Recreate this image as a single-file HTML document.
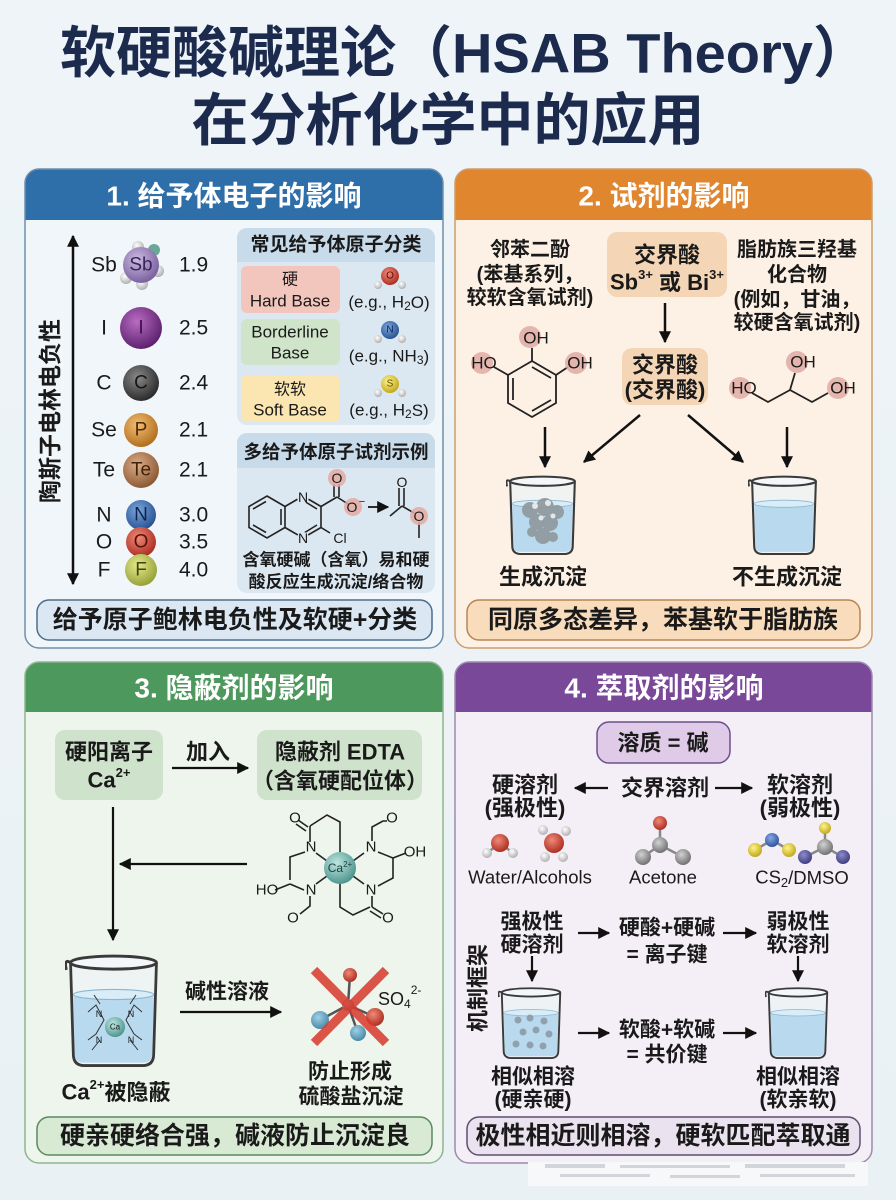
<!DOCTYPE html>
<html><head><meta charset="utf-8">
<style>
html,body{margin:0;padding:0;background:#edf3f7;}
svg{display:block;}
text{font-family:"Liberation Sans","Noto Sans CJK SC",sans-serif;fill:#1a1a1a;}
.b{font-weight:700;}
.w{fill:#ffffff;font-weight:700;}
</style></head><body>
<svg width="896" height="1200" viewBox="0 0 896 1200" xmlns="http://www.w3.org/2000/svg">
<defs>
<linearGradient id="bg" x1="0" y1="0" x2="0" y2="1"><stop offset="0" stop-color="#eef4f8"/><stop offset="1" stop-color="#eaf1f5"/></linearGradient>
<marker id="ah" viewBox="0 0 10 10" refX="9" refY="5" markerWidth="12" markerHeight="12" markerUnits="userSpaceOnUse" orient="auto-start-reverse"><path d="M0,0 L10,5 L0,10 Z" fill="#111"/></marker>
<radialGradient id="gSb" cx="40%" cy="35%" r="65%"><stop offset="0" stop-color="#cdbbe2"/><stop offset="1" stop-color="#7b62a0"/></radialGradient>
<radialGradient id="gI" cx="40%" cy="35%" r="65%"><stop offset="0" stop-color="#b96cc2"/><stop offset="1" stop-color="#5e2270"/></radialGradient>
<radialGradient id="gC" cx="40%" cy="35%" r="65%"><stop offset="0" stop-color="#8a8a8a"/><stop offset="1" stop-color="#2c2c2c"/></radialGradient>
<radialGradient id="gP" cx="40%" cy="35%" r="65%"><stop offset="0" stop-color="#f4be72"/><stop offset="1" stop-color="#b27020"/></radialGradient>
<radialGradient id="gTe" cx="40%" cy="35%" r="65%"><stop offset="0" stop-color="#dcae88"/><stop offset="1" stop-color="#8e5a36"/></radialGradient>
<radialGradient id="gN" cx="40%" cy="35%" r="65%"><stop offset="0" stop-color="#7ba8dc"/><stop offset="1" stop-color="#2a5394"/></radialGradient>
<radialGradient id="gO" cx="40%" cy="35%" r="65%"><stop offset="0" stop-color="#f08a78"/><stop offset="1" stop-color="#ad3024"/></radialGradient>
<radialGradient id="gF" cx="40%" cy="35%" r="65%"><stop offset="0" stop-color="#e6ea8a"/><stop offset="1" stop-color="#98a23a"/></radialGradient>
<radialGradient id="gCa" cx="40%" cy="35%" r="65%"><stop offset="0" stop-color="#bfe6e0"/><stop offset="1" stop-color="#4e9690"/></radialGradient>
<radialGradient id="gW" cx="40%" cy="35%" r="65%"><stop offset="0" stop-color="#ffffff"/><stop offset="1" stop-color="#b0b0b0"/></radialGradient>
<radialGradient id="gY" cx="40%" cy="35%" r="65%"><stop offset="0" stop-color="#fff48a"/><stop offset="1" stop-color="#c2a81c"/></radialGradient>
<radialGradient id="gG" cx="40%" cy="35%" r="65%"><stop offset="0" stop-color="#d2d2d2"/><stop offset="1" stop-color="#727272"/></radialGradient>
<radialGradient id="gB" cx="40%" cy="35%" r="65%"><stop offset="0" stop-color="#86a8e6"/><stop offset="1" stop-color="#33539e"/></radialGradient>
<radialGradient id="gV" cx="40%" cy="35%" r="65%"><stop offset="0" stop-color="#8c8cc8"/><stop offset="1" stop-color="#3f3f82"/></radialGradient>
<radialGradient id="gT" cx="40%" cy="35%" r="65%"><stop offset="0" stop-color="#9fd0e6"/><stop offset="1" stop-color="#4a8aa8"/></radialGradient>
<symbol id="bk" viewBox="0 0 70 80" preserveAspectRatio="none">
 <path d="M4,8 L6,71 Q6,79 14,79 L56,79 Q64,79 64,71 L66,8 Z" fill="#eef2f5" opacity="0.8"/>
 <path d="M6,30 L7,71 Q7,77 14,77 L56,77 Q63,77 63,71 L64,30 Z" fill="#b9daee"/>
 <ellipse cx="35" cy="30" rx="29" ry="3.5" fill="#d8edf8" stroke="#8cb6cf" stroke-width="0.8"/>
 <path d="M4,8 L6,71 Q6,79 14,79 L56,79 Q64,79 64,71 L66,8" fill="none" stroke="#3a3a3a" stroke-width="2"/>
 <ellipse cx="35" cy="8" rx="31" ry="4.5" fill="#f4f7f9" stroke="#3a3a3a" stroke-width="2"/>
 <path d="M4,8 Q-1,5 1,13" fill="none" stroke="#3a3a3a" stroke-width="2"/>
</symbol>
</defs>

<rect width="896" height="1200" fill="url(#bg)"/>

<!-- Title -->
<text x="60" y="53" font-size="56" class="b" dominant-baseline="central" style="fill:#1c2b4d">软硬酸碱理论（HSAB Theory）</text>
<text x="448" y="121" font-size="57" class="b" text-anchor="middle" dominant-baseline="central" style="fill:#1c2b4d">在分析化学中的应用</text>

<!-- ================= PANEL 1 ================= -->
<rect x="25" y="169" width="418" height="479" rx="14" fill="#f1f6fa"/>
<path d="M25,220 V183 A14,14 0 0 1 39,169 H429 A14,14 0 0 1 443,183 V220 Z" fill="#2f6fa9"/>
<rect x="25" y="169" width="418" height="479" rx="14" fill="none" stroke="#6f8fab" stroke-width="1.5"/>
<text x="234" y="196" font-size="28" class="w" text-anchor="middle" dominant-baseline="central">1. 给予体电子的影响</text>

<line x1="73" y1="236" x2="73" y2="584" stroke="#111" stroke-width="2.5" marker-start="url(#ah)" marker-end="url(#ah)"/>
<text transform="translate(50,411) rotate(-90)" font-size="23" class="b" text-anchor="middle" dominant-baseline="central">陶斯子电林电负性</text>

<g font-size="21" text-anchor="middle" dominant-baseline="central">
<text x="104" y="265">Sb</text><text x="104" y="328">I</text><text x="104" y="383">C</text><text x="104" y="430">Se</text>
<text x="104" y="470">Te</text><text x="104" y="515">N</text><text x="104" y="542">O</text><text x="104" y="570">F</text>
</g>
<g font-size="21" dominant-baseline="central">
<text x="179" y="265">1.9</text><text x="179" y="328">2.5</text><text x="179" y="383">2.4</text><text x="179" y="430">2.1</text>
<text x="179" y="470">2.1</text><text x="179" y="515">3.0</text><text x="179" y="542">3.5</text><text x="179" y="570">4.0</text>
</g>
<!-- balls -->
<circle cx="138" cy="247" r="6" fill="url(#gW)"/><circle cx="154" cy="250" r="6" fill="#6aa897"/>
<circle cx="126" cy="278" r="6" fill="url(#gW)"/><circle cx="142" cy="284" r="6" fill="url(#gW)"/><circle cx="158" cy="271" r="6" fill="url(#gW)"/>
<circle cx="141" cy="265" r="18" fill="url(#gSb)"/>
<circle cx="141" cy="328" r="21" fill="url(#gI)"/>
<circle cx="141" cy="383" r="18" fill="url(#gC)"/>
<circle cx="141" cy="430" r="17" fill="url(#gP)"/>
<circle cx="141" cy="470" r="18" fill="url(#gTe)"/>
<circle cx="141" cy="515" r="15" fill="url(#gN)"/>
<circle cx="141" cy="542" r="15" fill="url(#gO)"/>
<circle cx="141" cy="570" r="16" fill="url(#gF)"/>
<g font-size="19" text-anchor="middle" dominant-baseline="central">
<text x="141" y="265" style="fill:#3a2458">Sb</text>
<text x="141" y="328" style="fill:#3a0f48">I</text>
<text x="141" y="383" style="fill:#151515">C</text>
<text x="141" y="430" style="fill:#4a2a08">P</text>
<text x="141" y="470" style="fill:#3e220c">Te</text>
<text x="141" y="515" style="fill:#0e2350">N</text>
<text x="141" y="542" style="fill:#5a0e08">O</text>
<text x="141" y="570" style="fill:#3f4410">F</text>
</g>

<!-- classification box -->
<rect x="237" y="228" width="198" height="197" rx="10" fill="#dce8f1"/>
<path d="M237,262 V238 A10,10 0 0 1 247,228 H425 A10,10 0 0 1 435,238 V262 Z" fill="#c8dbeb"/>
<text x="336" y="245" font-size="19" class="b" text-anchor="middle" dominant-baseline="central">常见给予体原子分类</text>
<rect x="241" y="266" width="99" height="47" rx="6" fill="#f2c6bc"/>
<rect x="241" y="319" width="99" height="46" rx="6" fill="#cfe4c9"/>
<rect x="241" y="375" width="99" height="47" rx="6" fill="#fbe5b0"/>
<g font-size="17" text-anchor="middle" dominant-baseline="central">
<text x="290" y="280" font-size="16">硬</text><text x="290" y="301">Hard Base</text>
<text x="290" y="332">Borderline</text><text x="290" y="353">Base</text>
<text x="290" y="390" font-size="16">软软</text><text x="290" y="410">Soft Base</text>
<text x="389" y="302">(e.g., H<tspan dy="4" font-size="12">2</tspan><tspan dy="-4">O)</tspan></text>
<text x="389" y="356">(e.g., NH<tspan dy="4" font-size="12">3</tspan><tspan dy="-4">)</tspan></text>
<text x="389" y="410">(e.g., H<tspan dy="4" font-size="12">2</tspan><tspan dy="-4">S)</tspan></text>
</g>
<circle cx="378" cy="285" r="4" fill="url(#gW)"/><circle cx="402" cy="285" r="4" fill="url(#gW)"/><circle cx="390" cy="276" r="9" fill="url(#gO)"/>
<text x="390" y="276" font-size="10" text-anchor="middle" dominant-baseline="central" style="fill:#5a0e08">O</text>
<circle cx="378" cy="339" r="4" fill="url(#gW)"/><circle cx="402" cy="339" r="4" fill="url(#gW)"/><circle cx="390" cy="330" r="9" fill="url(#gN)"/>
<text x="390" y="330" font-size="10" text-anchor="middle" dominant-baseline="central" style="fill:#0e2350">N</text>
<circle cx="378" cy="393" r="4" fill="url(#gW)"/><circle cx="402" cy="393" r="4" fill="url(#gW)"/><circle cx="390" cy="384" r="9" fill="url(#gY)"/>
<text x="390" y="384" font-size="10" text-anchor="middle" dominant-baseline="central" style="fill:#5a4a00">S</text>

<!-- multidentate box -->
<rect x="237" y="433" width="198" height="160" rx="10" fill="#dce8f1"/>
<path d="M237,468 V443 A10,10 0 0 1 247,433 H425 A10,10 0 0 1 435,443 V468 Z" fill="#c8dbeb"/>
<text x="336" y="452" font-size="18.5" class="b" text-anchor="middle" dominant-baseline="central">多给予体原子试剂示例</text>
<g stroke="#222" stroke-width="1.6" fill="none">
<polygon points="267,496 285,506.5 285,527.5 267,538 249,527.5 249,506.5"/>
<line x1="253" y1="509" x2="266" y2="501.5"/><line x1="253" y1="525" x2="266" y2="532.5"/><line x1="281" y1="509" x2="281" y2="525"/>
<polyline points="303,496 321,506.5 321,527.5 303,538 285,527.5"/><line x1="285" y1="506.5" x2="303" y2="496"/>
<line x1="304" y1="501" x2="317" y2="509"/><line x1="317" y1="525" x2="304" y2="533"/>
<line x1="321" y1="506.5" x2="337" y2="497"/>
<line x1="334" y1="497" x2="334" y2="484"/><line x1="339" y1="497" x2="339" y2="484"/>
<line x1="337" y1="497" x2="348" y2="504"/>
<line x1="321" y1="527.5" x2="330" y2="533"/>
<line x1="390" y1="516" x2="402" y2="506"/><line x1="399" y1="506" x2="399" y2="488"/><line x1="404" y1="506" x2="404" y2="488"/>
<line x1="402" y1="506" x2="414" y2="513"/><line x1="419" y1="522" x2="419" y2="538"/>
</g>
<line x1="368" y1="507" x2="388" y2="507" stroke="#111" stroke-width="1.8" marker-end="url(#ah)"/>
<circle cx="337" cy="478" r="9" fill="#e4a9a2" opacity="0.85"/><circle cx="353" cy="507" r="9" fill="#e4a9a2" opacity="0.85"/>
<circle cx="419" cy="516" r="9" fill="#e4a9a2" opacity="0.85"/>
<circle cx="303" cy="497" r="6" fill="#dce8f1"/><circle cx="303" cy="538" r="6" fill="#dce8f1"/>
<g font-size="14" text-anchor="middle" dominant-baseline="central">
<text x="303" y="497">N</text><text x="303" y="538">N</text><text x="340" y="538">Cl</text>
<text x="337" y="478">O</text><text x="352" y="507">O</text><text x="362" y="502" font-size="11">−</text>
<text x="402" y="482">O</text><text x="419" y="516">O</text>
</g>
<text x="336" y="560" font-size="17" class="b" text-anchor="middle" dominant-baseline="central">含氧硬碱（含氧）易和硬</text>
<text x="336" y="582" font-size="17" class="b" text-anchor="middle" dominant-baseline="central">酸反应生成沉淀/络合物</text>

<rect x="37" y="600" width="395" height="40" rx="12" fill="#dbe8f3" stroke="#4f6d8a" stroke-width="1.5"/>
<text x="235" y="620" font-size="25" class="b" text-anchor="middle" dominant-baseline="central">给予原子鲍林电负性及软硬+分类</text>

<!-- ================= PANEL 2 ================= -->
<rect x="455" y="169" width="417" height="479" rx="14" fill="#fdf1e5"/>
<path d="M455,220 V183 A14,14 0 0 1 469,169 H858 A14,14 0 0 1 872,183 V220 Z" fill="#e0862f"/>
<rect x="455" y="169" width="417" height="479" rx="14" fill="none" stroke="#cf9c6c" stroke-width="1.5"/>
<text x="664" y="196" font-size="28" class="w" text-anchor="middle" dominant-baseline="central">2. 试剂的影响</text>

<g font-size="20" class="b" text-anchor="middle" dominant-baseline="central">
<text x="530" y="250">邻苯二酚</text><text x="530" y="275">(苯基系列，</text><text x="530" y="298">较软含氧试剂)</text>
<text x="797" y="250">脂肪族三羟基</text><text x="797" y="275">化合物</text><text x="797" y="300">(例如，甘油，</text><text x="797" y="323">较硬含氧试剂)</text>
</g>
<rect x="607" y="232" width="120" height="65" rx="10" fill="#f4d6b6"/>
<rect x="622" y="348" width="86" height="57" rx="10" fill="#f4d6b6"/>
<g font-size="22" class="b" text-anchor="middle" dominant-baseline="central">
<text x="667" y="255">交界酸</text>
<text x="667" y="282">Sb<tspan dy="-8" font-size="13">3+</tspan><tspan dy="8"> 或 Bi</tspan><tspan dy="-8" font-size="13">3+</tspan></text>
<text x="665" y="365">交界酸</text><text x="665" y="390">(交界酸)</text>
</g>
<line x1="665" y1="303" x2="665" y2="342" stroke="#111" stroke-width="2.5" marker-end="url(#ah)"/>

<!-- pyrogallol -->
<g stroke="#222" stroke-width="1.8" fill="none">
<polygon points="532,361 556,375 556,403 532,417 508,403 508,375"/>
<line x1="532" y1="367" x2="551" y2="378"/><line x1="551" y1="400" x2="532" y2="411"/><line x1="513" y1="378" x2="513" y2="400"/>
<line x1="532" y1="361" x2="532" y2="348"/><line x1="508" y1="375" x2="494" y2="367"/><line x1="556" y1="375" x2="568" y2="367"/>
<polyline points="752,393 768,402 790,390 812,402 828,393"/><line x1="790" y1="390" x2="795" y2="373"/>
</g>
<g fill="#e0aba5" opacity="0.85">
<circle cx="530" cy="337" r="11"/><circle cx="482" cy="363" r="11"/><circle cx="576" cy="363" r="11"/>
<circle cx="797" cy="362" r="11"/><circle cx="740" cy="388" r="11"/><circle cx="838" cy="388" r="11"/>
</g>
<g font-size="17" text-anchor="middle" dominant-baseline="central">
<text x="536" y="338">OH</text><text x="484" y="363">HO</text><text x="580" y="363">OH</text>
<text x="803" y="362">OH</text><text x="744" y="388">HO</text><text x="843" y="388">OH</text>
</g>

<g stroke="#111" stroke-width="2.5" marker-end="url(#ah)">
<line x1="545" y1="427" x2="545" y2="467"/>
<line x1="640" y1="415" x2="584" y2="462"/>
<line x1="688" y1="415" x2="743" y2="462"/>
<line x1="787" y1="427" x2="787" y2="467"/>
</g>
<use href="#bk" x="506" y="473" width="73" height="82"/>
<g fill="#8e979c" opacity="0.9">
<circle cx="530" cy="510" r="8"/><circle cx="545" cy="507" r="9"/><circle cx="557" cy="512" r="7"/>
<circle cx="537" cy="522" r="8"/><circle cx="550" cy="523" r="8"/><circle cx="543" cy="536" r="8"/><circle cx="532" cy="532" r="5"/><circle cx="553" cy="537" r="5"/>
</g>
<g fill="#e4e8ea"><circle cx="535" cy="506" r="3"/><circle cx="548" cy="503" r="3"/><circle cx="541" cy="518" r="2.5"/><circle cx="553" cy="516" r="2.5"/></g>
<use href="#bk" x="748" y="473" width="72" height="82"/>
<text x="543" y="577" font-size="22" class="b" text-anchor="middle" dominant-baseline="central">生成沉淀</text>
<text x="787" y="577" font-size="22" class="b" text-anchor="middle" dominant-baseline="central">不生成沉淀</text>

<rect x="467" y="600" width="393" height="40" rx="12" fill="#f8dcbc" stroke="#b88555" stroke-width="1.5"/>
<text x="663" y="620" font-size="25" class="b" text-anchor="middle" dominant-baseline="central">同原多态差异，苯基软于脂肪族</text>

<!-- ================= PANEL 3 ================= -->
<rect x="25" y="662" width="418" height="501" rx="14" fill="#eef5ec"/>
<path d="M25,712 V676 A14,14 0 0 1 39,662 H429 A14,14 0 0 1 443,676 V712 Z" fill="#4d985c"/>
<rect x="25" y="662" width="418" height="501" rx="14" fill="none" stroke="#8db690" stroke-width="1.5"/>
<text x="234" y="688" font-size="28" class="w" text-anchor="middle" dominant-baseline="central">3. 隐蔽剂的影响</text>

<rect x="55" y="730" width="108" height="70" rx="10" fill="#cfe2cb"/>
<rect x="257" y="730" width="165" height="70" rx="10" fill="#cfe2cb"/>
<g font-size="22" class="b" text-anchor="middle" dominant-baseline="central">
<text x="109" y="752">硬阳离子</text>
<text x="109" y="780">Ca<tspan dy="-8" font-size="13">2+</tspan></text>
<text x="208" y="752">加入</text>
<text x="340" y="752">隐蔽剂 EDTA</text>
<text x="340" y="781">（含氧硬配位体）</text>
</g>
<line x1="172" y1="768" x2="248" y2="768" stroke="#111" stroke-width="2.2" marker-end="url(#ah)"/>
<line x1="113" y1="807" x2="113" y2="940" stroke="#111" stroke-width="2.2" marker-end="url(#ah)"/>
<line x1="247" y1="864" x2="120" y2="864" stroke="#111" stroke-width="2.2" marker-end="url(#ah)"/>

<!-- EDTA complex -->
<g stroke="#222" stroke-width="1.6" fill="none">
<line x1="298" y1="820" x2="308" y2="827"/><line x1="296" y1="824" x2="306" y2="831"/>
<polyline points="310,826 327,815 340,822 340,852"/>
<line x1="310" y1="826" x2="310" y2="842"/>
<polyline points="305,852 290,857 290,880"/>
<line x1="275" y1="890" x2="290" y2="884"/><line x1="290" y1="884" x2="304" y2="890"/>
<polyline points="310,896 310,906 300,914"/>
<line x1="316" y1="853" x2="327" y2="861"/><line x1="316" y1="884" x2="327" y2="876"/>
<line x1="364" y1="853" x2="353" y2="861"/><line x1="364" y1="884" x2="353" y2="876"/>
<polyline points="372,841 372,827 383,821 387,821"/>
<polyline points="378,852 393,858 393,878 378,886"/>
<line x1="393" y1="858" x2="406" y2="853"/>
<polyline points="340,884 340,907 353,915 370,907"/>
<line x1="372" y1="896" x2="372" y2="907"/>
<line x1="372" y1="907" x2="383" y2="914"/><line x1="370" y1="911" x2="381" y2="918"/>
</g>
<circle cx="340" cy="868" r="16" fill="url(#gCa)"/>
<text x="340" y="868" font-size="12" text-anchor="middle" dominant-baseline="central" style="fill:#1d3d3a">Ca<tspan dy="-4" font-size="8">2+</tspan></text>
<g font-size="15" text-anchor="middle" dominant-baseline="central">
<text x="295" y="818">O</text><text x="392" y="818">O</text><text x="415" y="852">OH</text>
<text x="311" y="847">N</text><text x="371" y="847">N</text><text x="311" y="890">N</text><text x="371" y="890">N</text>
<text x="267" y="890">HO</text><text x="293" y="918">O</text><text x="388" y="918">O</text>
</g>

<use href="#bk" x="65" y="951" width="97" height="116"/>
<g stroke="#333" stroke-width="1" fill="none">
<polyline points="88,1012 96,1005 104,1020 96,1034 88,1040"/>
<polyline points="142,1012 134,1005 126,1020 134,1034 142,1040"/>
<line x1="94" y1="995" x2="100" y2="1004"/><line x1="136" y1="995" x2="130" y2="1004"/>
<line x1="92" y1="1050" x2="100" y2="1040"/><line x1="138" y1="1050" x2="130" y2="1040"/>
</g>
<circle cx="115" cy="1027" r="10" fill="url(#gCa)"/>
<text x="115" y="1027" font-size="8" text-anchor="middle" dominant-baseline="central">Ca</text>
<g font-size="9" text-anchor="middle" dominant-baseline="central"><text x="99" y="1014">N</text><text x="131" y="1014">N</text><text x="99" y="1040">N</text><text x="131" y="1040">N</text></g>

<text x="116" y="1092" font-size="22" class="b" text-anchor="middle" dominant-baseline="central">Ca<tspan dy="-8" font-size="13">2+</tspan><tspan dy="8">被隐蔽</tspan></text>
<text x="227" y="992" font-size="21" class="b" text-anchor="middle" dominant-baseline="central">碱性溶液</text>
<line x1="180" y1="1012" x2="281" y2="1012" stroke="#111" stroke-width="2.2" marker-end="url(#ah)"/>

<!-- sulfate -->
<g stroke="#555" stroke-width="2.5">
<line x1="348" y1="1005" x2="350" y2="975"/><line x1="348" y1="1005" x2="375" y2="1017"/>
<line x1="348" y1="1005" x2="320" y2="1020"/><line x1="348" y1="1005" x2="358" y2="1033"/>
</g>
<circle cx="350" cy="975" r="7" fill="url(#gO)"/><circle cx="375" cy="1017" r="9" fill="url(#gO)"/>
<circle cx="320" cy="1020" r="9" fill="url(#gT)"/><circle cx="358" cy="1033" r="8" fill="url(#gT)"/>
<circle cx="348" cy="1005" r="6" fill="url(#gG)"/>
<g stroke="#d8382c" stroke-width="9" stroke-linecap="butt" opacity="0.85">
<line x1="314" y1="970" x2="386" y2="1043"/><line x1="386" y1="970" x2="314" y2="1043"/>
</g>
<text x="378" y="999" font-size="18" dominant-baseline="central">SO<tspan dy="5" font-size="12">4</tspan><tspan dy="-14" font-size="12">2-</tspan></text>
<text x="350" y="1072" font-size="21" class="b" text-anchor="middle" dominant-baseline="central">防止形成</text>
<text x="351" y="1097" font-size="21" class="b" text-anchor="middle" dominant-baseline="central">硫酸盐沉淀</text>

<rect x="37" y="1117" width="395" height="38" rx="12" fill="#d8ead4" stroke="#5b8a5e" stroke-width="1.5"/>
<text x="235" y="1136" font-size="25" class="b" text-anchor="middle" dominant-baseline="central">硬亲硬络合强，碱液防止沉淀良</text>

<!-- ================= PANEL 4 ================= -->
<rect x="455" y="662" width="417" height="501" rx="14" fill="#f4eff6"/>
<path d="M455,712 V676 A14,14 0 0 1 469,662 H858 A14,14 0 0 1 872,676 V712 Z" fill="#7a4899"/>
<rect x="455" y="662" width="417" height="501" rx="14" fill="none" stroke="#9f89ad" stroke-width="1.5"/>
<text x="664" y="688" font-size="28" class="w" text-anchor="middle" dominant-baseline="central">4. 萃取剂的影响</text>

<rect x="597" y="722" width="133" height="41" rx="12" fill="#dfcbe8" stroke="#6e4f8a" stroke-width="1.5"/>
<text x="663" y="743" font-size="22" class="b" text-anchor="middle" dominant-baseline="central">溶质 = 碱</text>
<g font-size="22" class="b" text-anchor="middle" dominant-baseline="central">
<text x="525" y="785">硬溶剂</text><text x="525" y="808">(强极性)</text>
<text x="665" y="788">交界溶剂</text>
<text x="800" y="785">软溶剂</text><text x="800" y="808">(弱极性)</text>
</g>
<line x1="608" y1="788" x2="575" y2="788" stroke="#111" stroke-width="2.2" marker-end="url(#ah)"/>
<line x1="715" y1="788" x2="752" y2="788" stroke="#111" stroke-width="2.2" marker-end="url(#ah)"/>

<!-- molecules -->
<g stroke="#888" stroke-width="2.5">
<line x1="500" y1="843" x2="487" y2="853"/><line x1="500" y1="843" x2="513" y2="853"/>
<line x1="660" y1="823" x2="660" y2="845"/><line x1="660" y1="845" x2="643" y2="857"/><line x1="660" y1="845" x2="683" y2="857"/>
<line x1="772" y1="840" x2="755" y2="850"/><line x1="772" y1="840" x2="789" y2="850"/>
<line x1="825" y1="828" x2="825" y2="847"/><line x1="825" y1="847" x2="805" y2="857"/><line x1="825" y1="847" x2="843" y2="857"/>
</g>
<circle cx="487" cy="853" r="5" fill="url(#gW)"/><circle cx="513" cy="853" r="5" fill="url(#gW)"/><circle cx="500" cy="843" r="9" fill="url(#gO)"/>
<circle cx="543" cy="830" r="5" fill="url(#gW)"/><circle cx="566" cy="831" r="5" fill="url(#gW)"/>
<circle cx="545" cy="857" r="5" fill="url(#gW)"/><circle cx="563" cy="857" r="5" fill="url(#gW)"/>
<circle cx="554" cy="843" r="10" fill="url(#gO)"/>
<circle cx="660" cy="823" r="7" fill="url(#gO)"/><circle cx="660" cy="845" r="8" fill="url(#gG)"/>
<circle cx="643" cy="857" r="8" fill="url(#gG)"/><circle cx="683" cy="857" r="8" fill="url(#gG)"/>
<circle cx="755" cy="850" r="7" fill="url(#gY)"/><circle cx="789" cy="850" r="7" fill="url(#gY)"/><circle cx="772" cy="840" r="7" fill="url(#gB)"/>
<circle cx="825" cy="828" r="6" fill="url(#gY)"/><circle cx="825" cy="847" r="8" fill="url(#gG)"/>
<circle cx="805" cy="857" r="7" fill="url(#gV)"/><circle cx="843" cy="857" r="7" fill="url(#gV)"/>
<g font-size="18.5" text-anchor="middle" dominant-baseline="central">
<text x="530" y="877">Water/Alcohols</text><text x="663" y="877">Acetone</text>
<text x="802" y="877">CS<tspan dy="5" font-size="13">2</tspan><tspan dy="-5">/DMSO</tspan></text>
</g>

<text transform="translate(478,988) rotate(-90)" font-size="22" class="b" text-anchor="middle" dominant-baseline="central">机制框架</text>
<g font-size="21" class="b" text-anchor="middle" dominant-baseline="central">
<text x="532" y="922">强极性</text><text x="532" y="945">硬溶剂</text>
<text x="667" y="928">硬酸+硬碱</text><text x="667" y="955">= 离子键</text>
<text x="798" y="922">弱极性</text><text x="798" y="945">软溶剂</text>
<text x="667" y="1030">软酸+软碱</text><text x="667" y="1055">= 共价键</text>
<text x="533" y="1077">相似相溶</text><text x="533" y="1100">(硬亲硬)</text>
<text x="798" y="1077">相似相溶</text><text x="798" y="1100">(软亲软)</text>
</g>
<g stroke="#111" stroke-width="2.2" marker-end="url(#ah)">
<line x1="578" y1="933" x2="609" y2="933"/><line x1="723" y1="933" x2="756" y2="933"/>
<line x1="578" y1="1033" x2="609" y2="1033"/><line x1="723" y1="1033" x2="756" y2="1033"/>
<line x1="532" y1="956" x2="532" y2="981"/><line x1="798" y1="956" x2="798" y2="981"/>
</g>
<use href="#bk" x="498" y="985" width="66" height="74"/>
<g fill="#8c9aa8" opacity="0.9">
<circle cx="518" cy="1020" r="3.5"/><circle cx="530" cy="1018" r="3.5"/><circle cx="544" cy="1021" r="3.5"/>
<circle cx="523" cy="1032" r="3.5"/><circle cx="536" cy="1030" r="3.5"/><circle cx="549" cy="1034" r="3.5"/>
<circle cx="516" cy="1044" r="3.5"/><circle cx="530" cy="1045" r="3.5"/><circle cx="543" cy="1046" r="3.5"/>
</g>
<use href="#bk" x="765" y="985" width="66" height="74"/>

<rect x="467" y="1117" width="393" height="38" rx="12" fill="#ebe2ef" stroke="#5e4e70" stroke-width="1.5"/>
<text x="663" y="1136" font-size="25" class="b" text-anchor="middle" dominant-baseline="central">极性相近则相溶，硬软匹配萃取通</text>

<!-- watermark strip -->
<rect x="528" y="1162" width="340" height="24" fill="#f6f8fa"/>
<g fill="#c3c8ce" opacity="0.7">
<rect x="545" y="1164" width="60" height="4"/><rect x="620" y="1165" width="110" height="3"/><rect x="745" y="1164" width="100" height="4"/>
<rect x="560" y="1174" width="90" height="3"/><rect x="670" y="1175" width="70" height="3"/><rect x="760" y="1174" width="95" height="3"/>
</g>
</svg>
</body></html>
